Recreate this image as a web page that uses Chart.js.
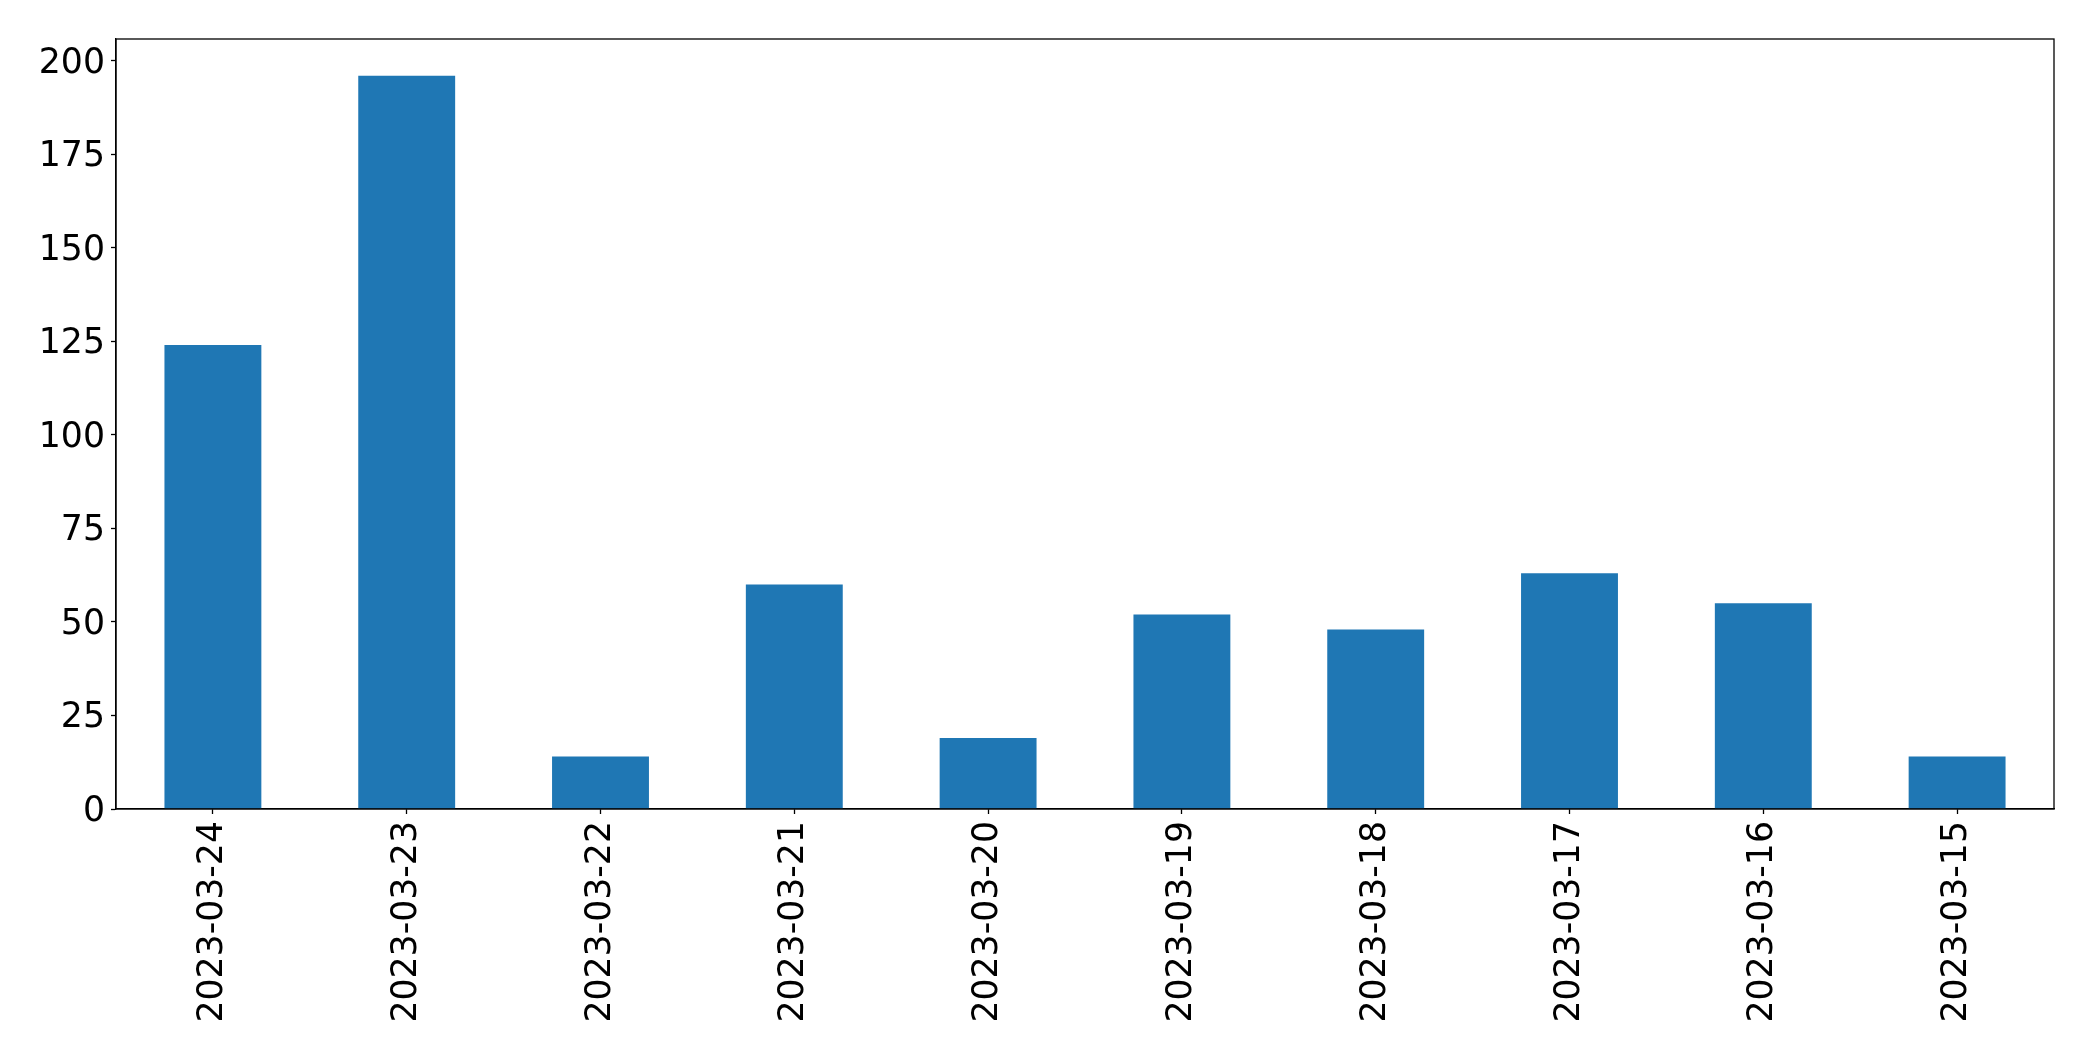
<!DOCTYPE html>
<html>
<head>
<meta charset="utf-8">
<script src="https://cdn.jsdelivr.net/npm/chart.js@4/dist/chart.umd.min.js"></script>
<style>
html,body{margin:0;padding:0;background:#fff;}
#c{display:block;}
</style>
</head>
<body>
<canvas id="c" width="2093" height="1061"></canvas>
<script>
const categories = ["2023-03-24","2023-03-23","2023-03-22","2023-03-21","2023-03-20","2023-03-19","2023-03-18","2023-03-17","2023-03-16","2023-03-15"];
const values = [124,196,14,60,19,52,48,63,55,14];
const yTicks = [0,25,50,75,100,125,150,175,200];
const yMax = 205.8;

const framePlugin = {
  id: 'frame',
  afterDraw(chart) {
    const a = chart.chartArea, ctx = chart.ctx;
    ctx.save();
    ctx.strokeStyle = '#000';
    ctx.lineWidth = 1.3;
    ctx.strokeRect(a.left, a.top, a.right - a.left, a.bottom - a.top);
    ctx.restore();
  }
};

const font = {family: "'DejaVu Sans', sans-serif", size: 34.7};

new Chart(document.getElementById('c'), {
  type: 'bar',
  data: {
    labels: categories,
    datasets: [{
      data: values,
      backgroundColor: '#1f77b4',
      borderWidth: 0,
      categoryPercentage: 1.0,
      barPercentage: 0.5
    }]
  },
  options: {
    responsive: false,
    animation: false,
    devicePixelRatio: 1,
    layout: {padding: {top: 39, right: 39, left: 0, bottom: 0}},
    plugins: {legend: {display: false}, tooltip: {enabled: false}},
    scales: {
      x: {
        offset: true,
        grid: {drawOnChartArea: false, drawTicks: true, tickLength: 5, color: '#000', tickWidth: 1.3, offset: false},
        border: {display: true, color: '#000', width: 1.3},
        ticks: {color: '#000', font: font, maxRotation: 90, minRotation: 90, autoSkip: false, padding: 7},
        afterFit(s) { s.height = 252; }
      },
      y: {
        min: 0,
        max: yMax,
        grid: {drawOnChartArea: false, drawTicks: true, tickLength: 5, color: '#000', tickWidth: 1.3},
        border: {display: true, color: '#000', width: 1.3},
        ticks: {color: '#000', font: font, stepSize: 25, includeBounds: false, padding: 6, labelOffset: 3},
        afterBuildTicks(s) { s.ticks = yTicks.map(v => ({value: v})); },
        afterFit(s) { s.width = 116; }
      }
    }
  },
  plugins: [framePlugin]
});
</script>
</body>
</html>
